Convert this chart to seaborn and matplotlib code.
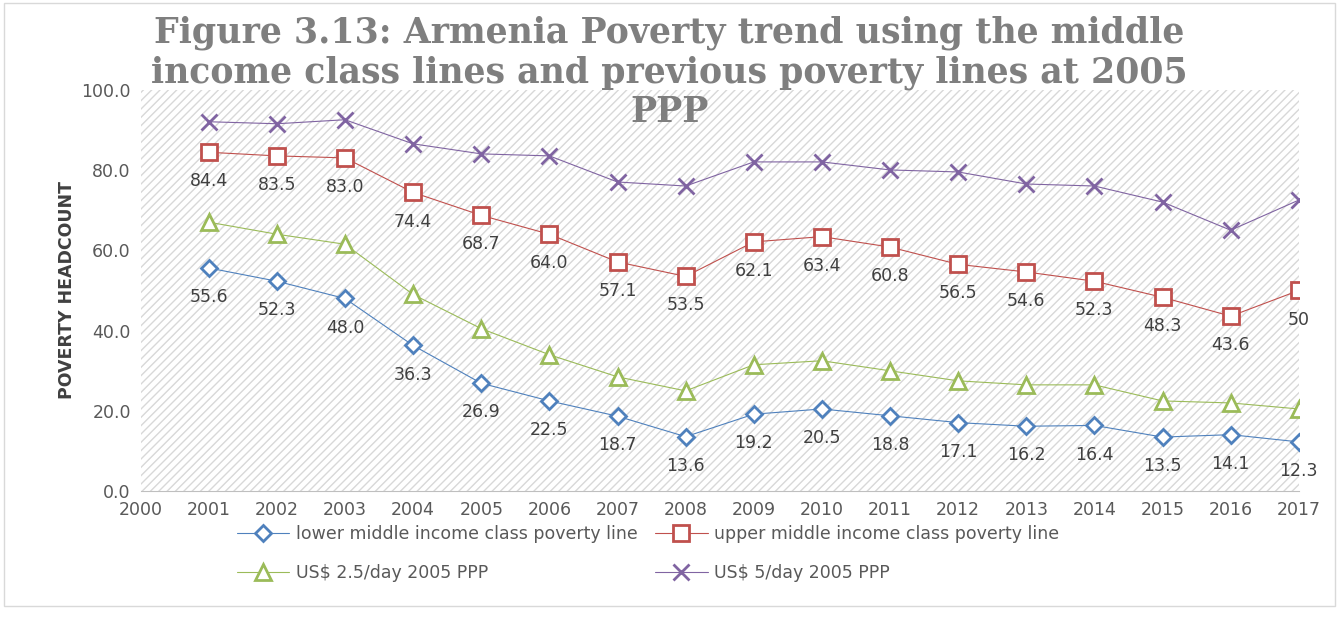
import matplotlib
matplotlib.use('Agg')
import matplotlib.pyplot as plt
import seaborn as sns
import pandas as pd

years = list(range(2001, 2018))
lower_mid = [55.6, 52.3, 48.0, 36.3, 26.9, 22.5, 18.7, 13.6, 19.2, 20.5, 18.8, 17.1, 16.2, 16.4, 13.5, 14.1, 12.3]
upper_mid = [84.4, 83.5, 83.0, 74.4, 68.7, 64.0, 57.1, 53.5, 62.1, 63.4, 60.8, 56.5, 54.6, 52.3, 48.3, 43.6, 50]
usd_25 = [67.0, 64.0, 61.5, 49.0, 40.5, 34.0, 28.5, 25.0, 31.5, 32.5, 30.0, 27.5, 26.5, 26.5, 22.5, 22.0, 20.5]
usd_5 = [92.0, 91.5, 92.5, 86.5, 84.0, 83.5, 77.0, 76.0, 82.0, 82.0, 80.0, 79.5, 76.5, 76.0, 72.0, 65.0, 72.5]
upper_labels = ['84.4', '83.5', '83.0', '74.4', '68.7', '64.0', '57.1', '53.5', '62.1', '63.4',
                '60.8', '56.5', '54.6', '52.3', '48.3', '43.6', '50']

series = [
    ('lower middle income class poverty line', lower_mid, '#4f81bd', 'D'),
    ('upper middle income class poverty line', upper_mid, '#c0504d', 's'),
    ('US$ 2.5/day 2005 PPP', usd_25, '#9bbb59', '^'),
    ('US$ 5/day 2005 PPP', usd_5, '#8064a2', 'x'),
]

sns.set_style('white')
plt.rcParams['font.family'] = ['DejaVu Sans']
fig = plt.figure(figsize=(13.39, 6.18), dpi=100)
ax = fig.add_axes([0.105, 0.205, 0.865, 0.65])
ax.set_facecolor('white')
ax.fill_between([2000, 2017], 0, 100, facecolor='none', edgecolor='#d8d8d8', hatch='////', linewidth=0)

for name, vals, col, mk in series:
    df = pd.DataFrame({'year': years, 'v': vals})
    sns.lineplot(data=df, x='year', y='v', ax=ax, color=col, linewidth=0.8, label=name,
                 marker=mk, markersize=11 if mk != 'D' else 8, markerfacecolor='white' if mk != 'x' else col,
                 markeredgecolor=col, markeredgewidth=2)

for x, v, s in zip(years, lower_mid, [f'{v:.1f}' for v in lower_mid]):
    ax.text(x, v - 5, s, ha='center', va='top', fontsize=12.5, color='#404040')
for x, v, s in zip(years, upper_mid, upper_labels):
    ax.text(x, v - 5, s, ha='center', va='top', fontsize=12.5, color='#404040')

ax.set_xlim(2000, 2017)
ax.set_ylim(0, 100)
ax.set_xticks(range(2000, 2018))
ax.set_yticks(range(0, 101, 20))
ax.set_yticklabels([f'{t:.1f}' for t in range(0, 101, 20)])
ax.tick_params(labelsize=12.5, colors='#595959')
ax.set_xlabel('')
ax.set_ylabel('POVERTY HEADCOUNT', fontsize=12.5, fontweight='bold', color='#404040')
for s in ['top', 'right', 'left']:
    ax.spines[s].set_visible(False)
ax.spines['bottom'].set_color('#bfbfbf')

# legend order: row-wise in the reference (ncol=2 fills column-wise)
h, l = ax.get_legend_handles_labels()
order = [0, 2, 1, 3]
ax.legend([h[i] for i in order], [l[i] for i in order], loc='upper left', bbox_to_anchor=(0.07, -0.045),
          ncol=2, frameon=False, fontsize=12.5, labelcolor='#595959', columnspacing=1.0,
          handlelength=3, labelspacing=1.2, handletextpad=0.4)

fig.text(0.5, 0.975, 'Figure 3.13: Armenia Poverty trend using the middle\nincome class lines and previous poverty lines at 2005\nPPP',
         ha='center', va='top', fontsize=25, fontweight='bold', family='DejaVu Serif',
         color='#7f7f7f', linespacing=1.2)
fig.patches.append(plt.Rectangle((0.003, 0.02), 0.994, 0.975, transform=fig.transFigure,
                                 fill=False, edgecolor='#d9d9d9', linewidth=1))
fig.savefig('out.png', dpi=100)
